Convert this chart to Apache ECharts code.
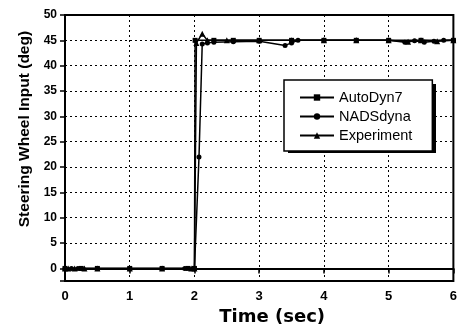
<!DOCTYPE html>
<html><head><meta charset="utf-8">
<script src="https://cdn.jsdelivr.net/npm/echarts@6/dist/echarts.min.js"></script>
<style>html,body{margin:0;padding:0;background:#fff}#c{width:460px;height:331px}</style>
</head><body><div id="c"></div>
<script>
// Data
const xTicks = [0, 1, 2, 3, 4, 5, 6];
const yTicks = [0, 5, 10, 15, 20, 25, 30, 35, 40, 45, 50];

const autoT = [0, 0.25, 0.5, 1.0, 1.5, 1.9, 2.0, 2.01, 2.3, 2.6, 3.0, 3.5, 4.0, 4.5, 5.0, 5.5, 6.0];
const autoV = [0, 0, 0, 0, 0, 0, 0, 45, 45, 45, 45, 45, 45, 45, 45, 45, 45];

const nadsT = [0, 0.1, 0.2, 0.25, 0.5, 1.0, 1.5, 1.85, 2.0, 2.07, 2.12, 2.2, 2.3, 2.6, 3.0, 3.4, 3.5, 3.6, 4.0, 4.5, 5.0, 5.25, 5.4, 5.55, 5.7, 5.85, 6.0];
const nadsV = [0, 0, 0, 0, 0, 0, 0, 0, 0, 22, 44.3, 44.5, 44.6, 44.7, 44.8, 44.0, 44.5, 45, 45, 45, 45, 44.6, 44.9, 44.6, 44.8, 45, 45];

const expT = [0, 0.05, 0.15, 0.3, 0.5, 1.0, 1.5, 1.95, 2.0, 2.03, 2.12, 2.2, 2.5, 3.0, 3.5, 4.0, 4.5, 5.0, 5.3, 5.5, 5.75, 6.0];
const expV = [0, 0, 0, 0, 0, 0, 0, 0, 0, 44.5, 46.3, 45, 45, 45, 45, 45, 45, 45, 44.7, 45, 44.8, 45];

const zip = (a, b) => a.map((x, i) => [x, b[i]]);
const font = "'Liberation Sans', Arial, sans-serif";

const chart = echarts.init(document.getElementById('c'), null, {renderer: 'canvas'});
const lineStyle = {color: '#000', width: 1.5};
chart.setOption({
  animation: false,
  backgroundColor: '#fff',
  grid: {left: 65, right: 2, top: 15, bottom: 46, show: true, borderColor: '#000', borderWidth: 2, backgroundColor: 'transparent'},
  graphic: [
    {type: 'rect', left: 288, top: 84, shape: {width: 148, height: 69}, style: {fill: '#000'}, z: 0, zlevel: 0}
  ],
  xAxis: {
    type: 'value', min: xTicks[0], max: xTicks[xTicks.length - 1], interval: 1,
    name: 'Time (sec)', nameLocation: 'middle', nameGap: 25,
    nameTextStyle: {fontFamily: "'DejaVu Sans', sans-serif", fontWeight: 'bold', fontSize: 18, color: '#000', padding: [0, 0, 0, 26]},
    axisLine: {lineStyle: {color: '#000', width: 2}},
    axisTick: {show: true, length: 5, lineStyle: {color: '#000', width: 1.5}},
    axisLabel: {fontFamily: font, fontWeight: 'bold', fontSize: 13, color: '#000', margin: 9},
    splitLine: {show: true, lineStyle: {color: '#000', type: [2, 3], width: 1}}
  },
  yAxis: {
    type: 'value', min: -2.5, max: yTicks[yTicks.length - 1], splitNumber: 10,
    name: 'Steering Wheel Input (deg)', nameLocation: 'middle', nameGap: 32,
    nameTextStyle: {fontFamily: font, fontWeight: 'bold', fontSize: 15.5, color: '#000', padding: [0, 0, 0, 38]},
    axisLine: {show: true, lineStyle: {color: '#000', width: 2}},
    axisTick: {show: true, length: 5, lineStyle: {color: '#000', width: 1.5}},
    axisLabel: {fontFamily: font, fontWeight: 'bold', fontSize: 12, color: '#000', margin: 8,
      formatter: v => (yTicks.indexOf(v) >= 0 ? String(v) : '')},
    splitLine: {show: true, lineStyle: {color: '#000', type: [2, 3], width: 1}}
  },
  legend: {
    orient: 'vertical', left: 284, top: 80, z: 10,
    backgroundColor: '#fff', borderColor: '#000', borderWidth: 1.5,
    padding: [10, 20, 8, 15], itemGap: 4, itemWidth: 34, itemHeight: 8,
    textStyle: {fontFamily: font, fontSize: 14.5, color: '#000', lineHeight: 14},
    data: ['AutoDyn7', 'NADSdyna', 'Experiment']
  },
  series: [
    {name: 'AutoDyn7', type: 'line', data: zip(autoT, autoV), symbol: 'rect', symbolSize: 5,
     lineStyle, itemStyle: {color: '#000'}},
    {name: 'NADSdyna', type: 'line', data: zip(nadsT, nadsV), symbol: 'circle', symbolSize: 5,
     lineStyle, itemStyle: {color: '#000'}},
    {name: 'Experiment', type: 'line', data: zip(expT, expV), symbol: 'triangle', symbolSize: 6,
     lineStyle, itemStyle: {color: '#000'}}
  ]
});
</script></body></html>
